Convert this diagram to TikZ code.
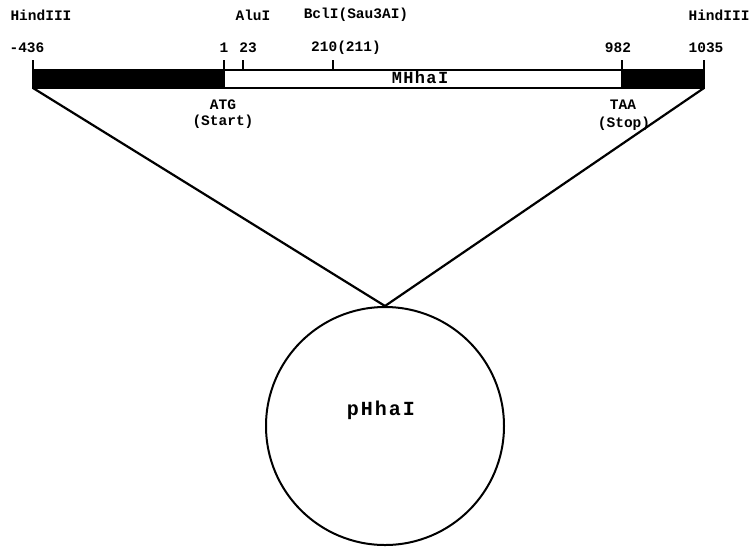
\documentclass[tikz,border=0pt]{standalone}
\usepackage{fontspec}
\newfontfamily\monof{Liberation Mono}
\newfontfamily\monow[LetterSpace=8]{Liberation Mono}
\newfontfamily\monoww[LetterSpace=10]{Liberation Mono}
\begin{document}
\begin{tikzpicture}[x=1pt,y=-1pt,
  lbl/.style={font=\monof\bfseries\fontsize{14.5}{17}\selectfont, inner sep=0pt},
  mid/.style={font=\monow\bfseries\fontsize{17}{20}\selectfont, inner sep=0pt},
  big/.style={font=\monoww\bfseries\fontsize{20}{24}\selectfont, inner sep=0pt},
  seg/.style={draw, line width=2pt, minimum height=18pt, inner sep=0pt, outer sep=0pt},
  tick/.style={line width=1.8pt},
  link/.style={line width=2.2pt}]
\useasboundingbox (0,0) rectangle (755,547);
% bar segments
\node[seg, fill=black, minimum width=191pt, anchor=north west] (up) at (33,70) {};
\node[seg, fill=white, minimum width=398pt, anchor=north west] (gene) at (224,70) {};
\node[seg, fill=black, minimum width=82pt, anchor=north west] (down) at (622,70) {};
\node[mid] (mh) at (420,77) {MHhaI};
% ticks
\coordinate (t1) at (33,60);
\coordinate (t2) at (224,60);
\coordinate (t3) at (243,60);
\coordinate (t4) at (333,60);
\coordinate (t5) at (622,60);
\coordinate (t6) at (704,60);
\coordinate (b1) at (33,70);
\coordinate (b2) at (224,70);
\coordinate (b3) at (243,70);
\coordinate (b4) at (333,70);
\coordinate (b5) at (622,70);
\coordinate (b6) at (704,70);
\foreach \i in {1,...,6} {\draw[tick] (t\i) -- (b\i);}
% numbers
\node[lbl] (n1) at (27,48) {-436};
\node[lbl] (n2) at (224,48) {1};
\node[lbl] (n3) at (248,48) {23};
\node[lbl] (n4) at (346,48) {210(211)};
\node[lbl] (n5) at (618,48) {982};
\node[lbl] (n6) at (706,48) {1035};
% enzyme names
\node[lbl] (h1) at (41,15) {HindIII};
\node[lbl] (al) at (253,15) {AluI};
\node[lbl] (bc) at (356,15) {BclI(Sau3AI)};
\node[lbl] (h2) at (719,15) {HindIII};
% start / stop
\node[lbl] (atg) at (223,105) {ATG};
\node[lbl] (sta) at (223,122) {(Start)};
\node[lbl] (taa) at (623,105) {TAA};
\node[lbl] (sto) at (624,124) {(Stop)};
% plasmid
\node[draw, circle, line width=2pt, minimum size=238pt, inner sep=0pt] (pl) at (385,426) {};
\node[big] (pn) at (381,410) {pHhaI};
\draw[link] (up.south west) -- (pl.north);
\draw[link] (down.south east) -- (pl.north);
\end{tikzpicture}
\end{document}
